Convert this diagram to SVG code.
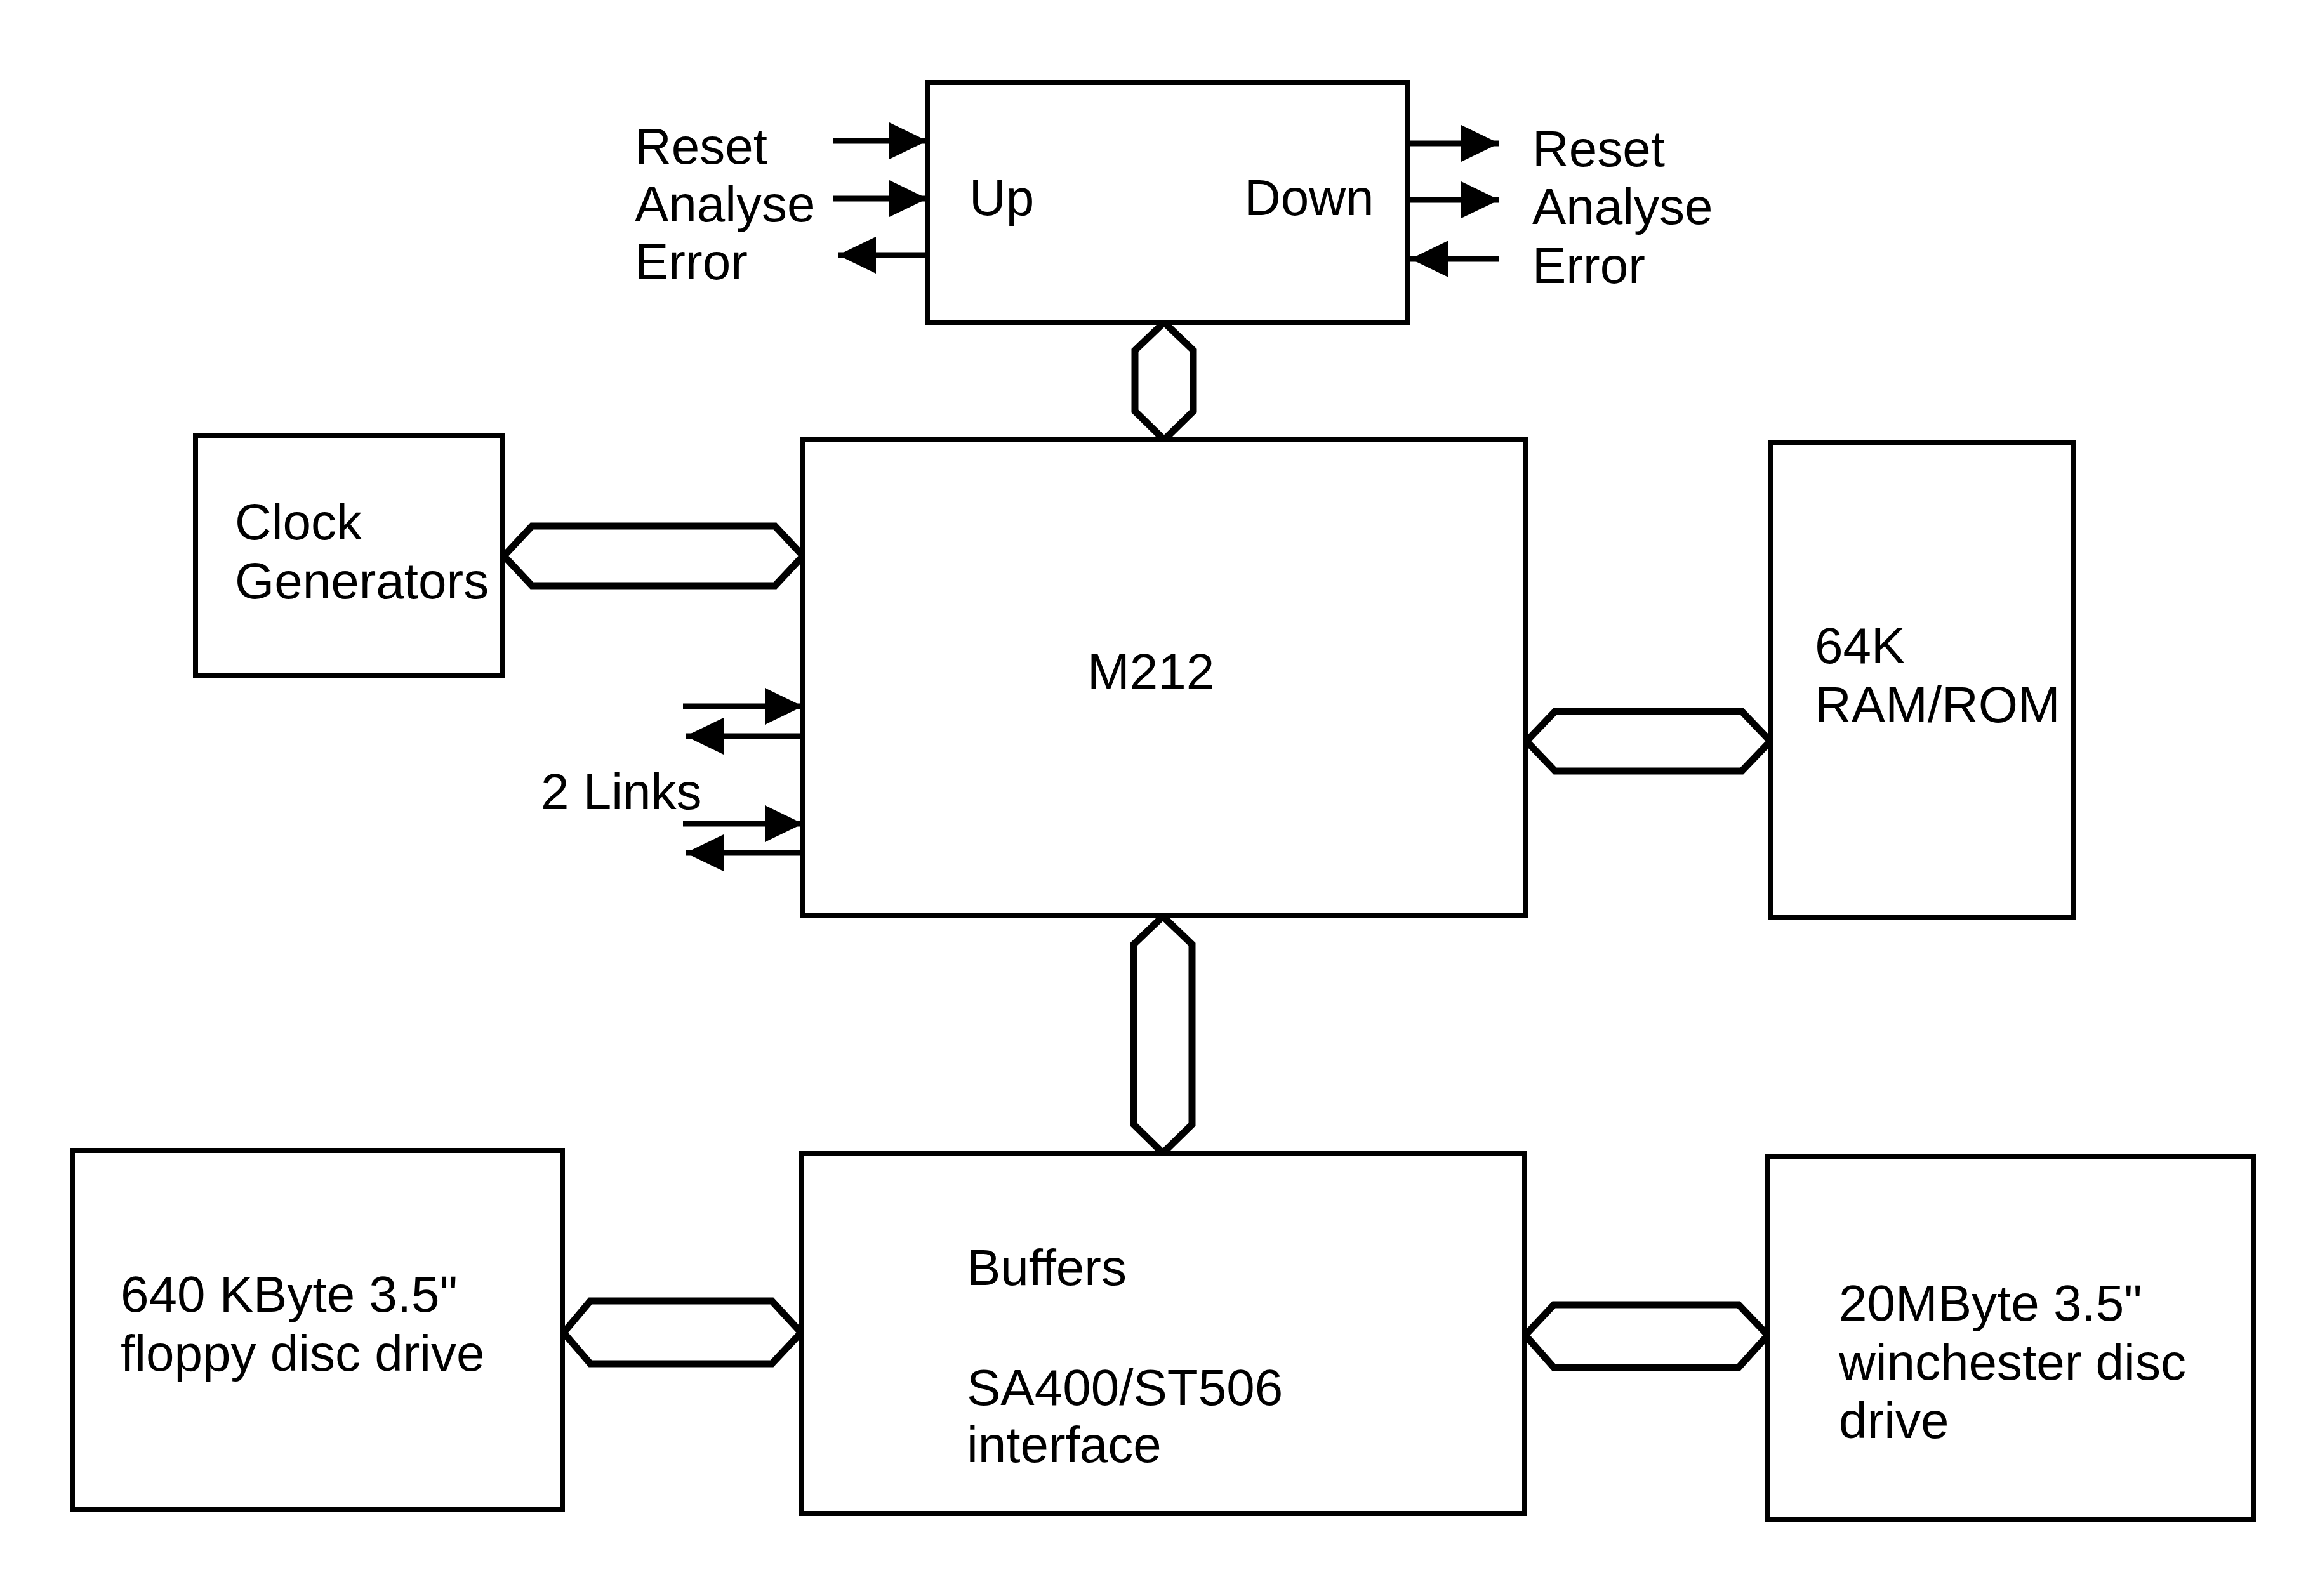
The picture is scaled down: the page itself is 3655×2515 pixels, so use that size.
<svg xmlns="http://www.w3.org/2000/svg" width="3655" height="2515" viewBox="0 0 3655 2515">
<style>
.box{fill:#fff;stroke:#000;stroke-width:8}
.bus{fill:#fff;stroke:#000;stroke-width:11;stroke-linejoin:miter}
.sig{stroke:#000;stroke-width:9;fill:none;marker-end:url(#ah)}
text{font-family:"Liberation Sans",Arial,sans-serif;font-size:80px;fill:#000}
</style>
<defs>
<marker id="ah" markerUnits="userSpaceOnUse" markerWidth="62" markerHeight="60" refX="60" refY="30" orient="auto" viewBox="0 0 62 60">
<path d="M0,1 L60,30 L0,59 z" fill="#000"/>
</marker>
</defs>
<rect width="3655" height="2515" fill="#fff"/>
<g id="connectors">
<polygon class="bus" points="1834,508 1880,552 1880,648 1834,693 1788,648 1788,552"/>
<polygon class="bus" points="794,876 838,829 1221,829 1265,876 1221,923 838,923"/>
<polygon class="bus" points="2405,1168 2450,1121 2744,1121 2789,1168 2744,1215 2450,1215"/>
<polygon class="bus" points="1832,1444 1878,1488 1878,1772 1832,1817 1786,1772 1786,1488"/>
<polygon class="bus" points="888,2100 930,2050 1216,2050 1262,2100 1216,2149 930,2149"/>
<polygon class="bus" points="2403,2104 2448,2056 2739,2056 2785,2104 2739,2155 2448,2155"/>
<line class="sig" x1="1312" y1="222" x2="1461" y2="222"/>
<line class="sig" x1="1312" y1="313" x2="1461" y2="313"/>
<line class="sig" x1="1461" y1="402" x2="1320" y2="402"/>
<line class="sig" x1="2219" y1="226" x2="2362" y2="226"/>
<line class="sig" x1="2219" y1="315" x2="2362" y2="315"/>
<line class="sig" x1="2362" y1="408" x2="2222" y2="408"/>
<line class="sig" x1="1076" y1="1113" x2="1265" y2="1113"/>
<line class="sig" x1="1265" y1="1160" x2="1080" y2="1160"/>
<line class="sig" x1="1076" y1="1298" x2="1265" y2="1298"/>
<line class="sig" x1="1265" y1="1344" x2="1080" y2="1344"/>
</g>
<g id="updown">
<rect class="box" x="1461" y="130" width="757" height="378"/>
<text x="1527" y="339">Up</text>
<text x="1960" y="339">Down</text>
</g>
<g id="signals-left">
<text x="1000" y="258">Reset</text>
<text x="1000" y="349">Analyse</text>
<text x="1000" y="440">Error</text>
</g>
<g id="signals-right">
<text x="2414" y="262">Reset</text>
<text x="2414" y="353">Analyse</text>
<text x="2414" y="446">Error</text>
</g>
<g id="clock">
<rect class="box" x="308" y="686" width="484" height="379"/>
<text x="370" y="850">Clock</text>
<text x="370" y="943">Generators</text>
</g>
<g id="m212">
<rect class="box" x="1265" y="692" width="1138" height="750"/>
<text x="1713" y="1086">M212</text>
</g>
<g id="links">
<text x="852" y="1275">2 Links</text>
</g>
<g id="ram">
<rect class="box" x="2789" y="698" width="478" height="748"/>
<text x="2859" y="1045">64K</text>
<text x="2859" y="1138">RAM/ROM</text>
</g>
<g id="floppy">
<rect class="box" x="114" y="1813" width="772" height="566"/>
<text x="190" y="2067">640 KByte 3.5"</text>
<text x="190" y="2160">floppy disc drive</text>
</g>
<g id="buffers">
<rect class="box" x="1262" y="1818" width="1140" height="567"/>
<text x="1523" y="2025">Buffers</text>
<text x="1523" y="2214">SA400/ST506</text>
<text x="1523" y="2304">interface</text>
</g>
<g id="winchester">
<rect class="box" x="2785" y="1823" width="765" height="572"/>
<text x="2897" y="2081">20MByte 3.5"</text>
<text x="2897" y="2174">winchester disc</text>
<text x="2897" y="2266">drive</text>
</g>
</svg>
